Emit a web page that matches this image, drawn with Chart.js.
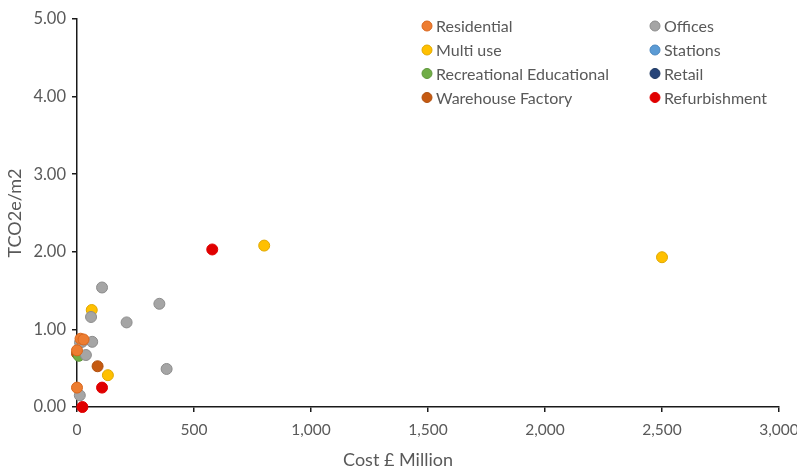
<!DOCTYPE html>
<html>
<head>
<meta charset="utf-8">
<script src="https://cdn.jsdelivr.net/npm/chart.js@4/dist/chart.umd.min.js"></script>
<style>
  html, body { margin: 0; padding: 0; background: #fff; }
  #wrap { width: 797px; height: 472px; }
</style>
</head>
<body>
<div id="wrap"><canvas id="myChart" width="797" height="472"></canvas></div>
<script>
// Embodied carbon vs project cost, one array of [cost, tCO2e/m2] pairs per building type
var residential   = [[15, 0.88], [28, 0.87], [0, 0.73], [0, 0.25]];
var offices       = [[107, 1.54], [352, 1.33], [60, 1.16], [212, 1.09], [13, 0.83], [22, 0.84],
                     [65, 0.84], [38, 0.67], [383, 0.49], [12, 0.15]];
var multiUse      = [[63, 1.25], [800, 2.08], [2500, 1.93], [132, 0.41]];
var stations      = [];
var recreational  = [[8, 0.66]];
var retail        = [];
var warehouse     = [[0, 0.69], [88, 0.525]];
var refurbishment = [[578, 2.03], [107, 0.25], [23, 0.0]];

var xTicks = [0, 500, 1000, 1500, 2000, 2500, 3000];
var yTicks = [0, 1, 2, 3, 4, 5];

var textColor = '#595959';
var fontFamily = 'Lato, "Open Sans", sans-serif';

function pts(arr) {
    return arr.map(function(p) { return { x: p[0], y: p[1] }; });
}

function series(label, arr, fill, edge) {
    return {
        label: label,
        data: pts(arr),
        backgroundColor: fill,
        borderColor: edge,
        borderWidth: 1,
        pointRadius: 5.5,
        pointHoverRadius: 5.5,
        clip: false
    };
}

// drawing order: later series sit on top
var datasets = [
    series('Residential', residential, '#ED7D31', '#D9661C'),
    series('Offices', offices, '#A5A5A5', '#8C8C8C'),
    series('Multi use', multiUse, '#FFC000', '#E0A800'),
    series('Stations', stations, '#5B9BD5', '#4A86BE'),
    series('Recreational Educational', recreational, '#70AD47', '#5E973A'),
    series('Retail', retail, '#264478', '#1E3861'),
    series('Warehouse Factory', warehouse, '#C55A11', '#B0500F'),
    series('Refurbishment', refurbishment, '#E00000', '#E00000')
];

// legend laid out in two columns, filled top to bottom
var legendColumns = [
    ['Residential', 'Multi use', 'Recreational Educational', 'Warehouse Factory'],
    ['Offices', 'Stations', 'Retail', 'Refurbishment']
];

var legendPlugin = {
    id: 'columnLegend',
    afterDraw: function(chart) {
        var ctx = chart.ctx;
        var colX = [427, 655];
        var rowY = [26, 50, 73.5, 97.5];
        ctx.save();
        ctx.font = '16px ' + fontFamily;
        ctx.textBaseline = 'middle';
        legendColumns.forEach(function(col, c) {
            col.forEach(function(name, r) {
                var ds = chart.data.datasets.find(function(d) { return d.label === name; });
                ctx.beginPath();
                ctx.arc(colX[c], rowY[r], 5, 0, Math.PI * 2);
                ctx.fillStyle = ds.backgroundColor;
                ctx.fill();
                ctx.lineWidth = 1;
                ctx.strokeStyle = ds.borderColor;
                ctx.stroke();
                ctx.fillStyle = textColor;
                ctx.fillText(name, colX[c] + 9, rowY[r] + 1);
            });
        });
        // x axis title
        ctx.font = '18px ' + fontFamily;
        ctx.textAlign = 'center';
        ctx.fillText('Cost \u00A3 Million', 398, 460);
        ctx.restore();
    }
};

var ctx = document.getElementById('myChart').getContext('2d');
var myChart = new Chart(ctx, {
    type: 'scatter',
    data: { datasets: datasets },
    options: {
        responsive: false,
        animation: false,
        layout: { padding: { top: 19, right: 18, left: 0, bottom: 0 } },
        plugins: {
            legend: { display: false },
            tooltip: { enabled: false }
        },
        scales: {
            x: {
                type: 'linear',
                min: 0,
                max: 3000,
                afterBuildTicks: function(scale) {
                    scale.ticks = xTicks.map(function(v) { return { value: v }; });
                },
                afterFit: function(scale) {
                    scale.height = 65;
                    scale.paddingLeft = 0;
                    scale.paddingRight = 0;
                },
                border: { display: true, color: '#1a1a1a', width: 1.5 },
                grid: { drawOnChartArea: false, drawTicks: true, tickLength: 5, color: '#1a1a1a', lineWidth: 1.5 },
                ticks: {
                    color: textColor,
                    font: { family: fontFamily, size: 15.5 },
                    padding: 9,
                    maxRotation: 0,
                    callback: function(v) { return v.toLocaleString('en-US'); }
                }
            },
            y: {
                type: 'linear',
                min: 0,
                max: 5,
                afterBuildTicks: function(scale) {
                    scale.ticks = yTicks.map(function(v) { return { value: v }; });
                },
                afterFit: function(scale) {
                    scale.width = 77;
                },
                border: { display: true, color: '#1a1a1a', width: 1.5 },
                grid: { drawOnChartArea: false, drawTicks: true, tickLength: 5, color: '#1a1a1a', lineWidth: 1.5 },
                title: {
                    display: true,
                    text: 'TCO2e/m2',
                    color: textColor,
                    font: { family: fontFamily, size: 18 },
                    padding: { top: 4, bottom: 0 }
                },
                ticks: {
                    color: textColor,
                    font: { family: fontFamily, size: 16.5 },
                    padding: 6,
                    callback: function(v) { return v.toFixed(2); }
                }
            }
        }
    },
    plugins: [legendPlugin]
});
</script>
</body>
</html>
